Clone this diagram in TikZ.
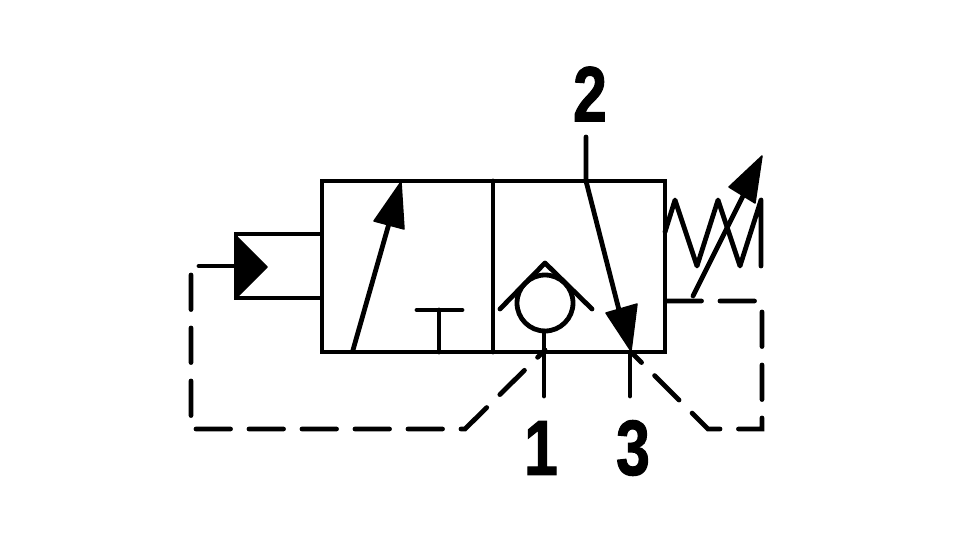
\documentclass[tikz,border=0pt]{standalone}
\usepackage{graphicx}
\usepackage{fontspec}
\setmainfont{Liberation Sans}[BoldFeatures={FakeBold=1.6}]
\tikzset{
 sym/.style={line width=4.8pt,line join=round,line cap=round},
 pilot/.style={line width=4.8pt,line cap=round,dash pattern=on 34.5pt off 18.5pt},
 head/.style={fill=black,draw=black,line width=1.5pt,line join=round},
 port/.style={inner sep=0pt,font=\fontsize{78}{78}\selectfont\bfseries}
}
\begin{document}
\begin{tikzpicture}[x=1pt,y=-1pt]
 \useasboundingbox (0,0) rectangle (960,540);
 \draw[sym,line join=miter](322,181) rectangle (665,352);
 \draw[sym](493,181)--(493,352);
 \draw[sym,line join=miter](321,234)--(236,234)--(236,298)--(321,298);
 \draw[head](236,236)--(267,267)--(236,298)--cycle;
 \draw[sym](199,266)--(236,266);
 \draw[pilot](191,275)--(191,429)--(465,429)--(545,350);
 \draw[sym](353,350)--(390,220);
 \draw[head](401,182)--(374,221)--(404,229)--cycle;
 \draw[sym](417,310)--(462,310);
 \draw[sym](439,310)--(439,352);
 \draw[sym](545,303) circle (28);
 \draw[sym](500,309)--(545,263)--(592,309);
 \draw[sym](544,331)--(544,396);
 \draw[sym](630,352)--(630,396);
 \draw[sym](586,137)--(586,181)--(619,310);
 \draw[head](631,351)--(606,313)--(637,304)--cycle;
 \draw[sym](665,232)--(675,200)--(697,266)--(718,200)--(740,266)--(761,200)--(761,266);
 \draw[sym](693,296)--(744,194);
 \draw[head](762,156)--(729,187)--(755,203)--cycle;
 \draw[pilot](667,301)--(762,301)--(762,429)--(708,429)--(631,352);
 \node[port] (portone) at (541,448) {\scalebox{0.78}[1]{1}};
 \node[port] (porttwo) at (590,94) {\scalebox{0.78}[1]{2}};
 \node[port] (portthree) at (633,448) {\scalebox{0.78}[1]{3}};
\end{tikzpicture}
\end{document}
